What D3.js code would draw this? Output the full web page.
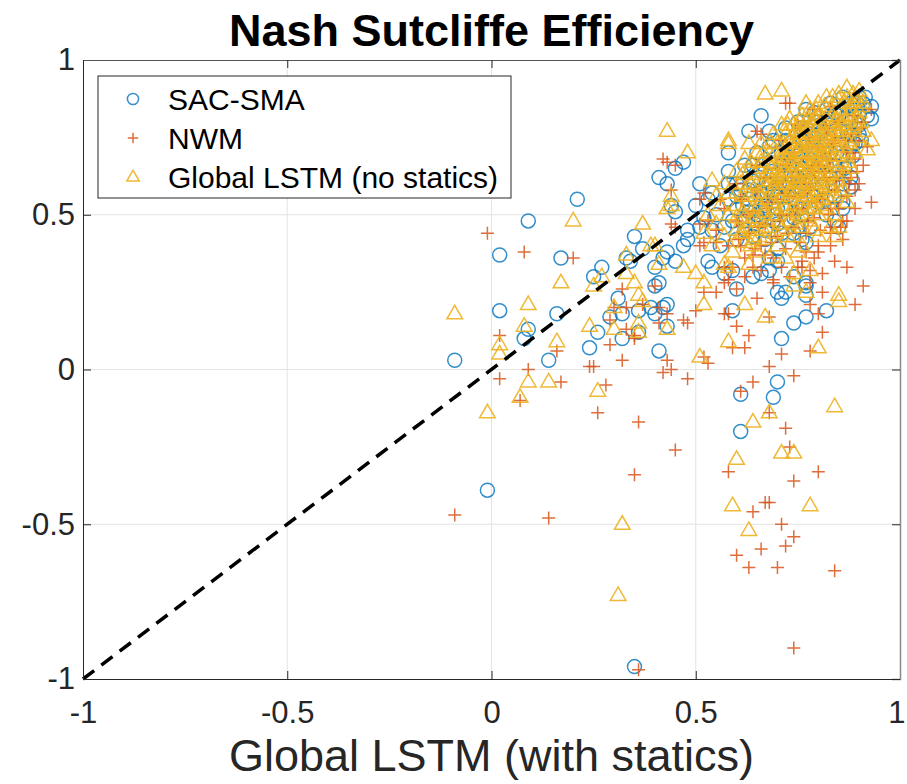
<!DOCTYPE html>
<html>
<head>
<meta charset="utf-8">
<script src="https://cdn.jsdelivr.net/npm/d3@7"></script>
<style>
  body { margin: 0; background: #fff; }
  svg { display: block; font-family: "Liberation Sans", Arial, Helvetica, sans-serif; }
</style>
</head>
<body>
<svg id="chart" width="907" height="784"></svg>
<script>
// ── data ───────────────────────────────────────────────────
const seriesNames = ["SAC-SMA", "NWM", "Global LSTM (no statics)"];
const xTicks = [-1, -0.5, 0, 0.5, 1];
const yTicks = [-1, -0.5, 0, 0.5, 1];

// [global LSTM with statics, other model]
const sacSma = [
  [-0.09,0.03],[0.02,0.19],[0.02,0.37],[0.09,0.48],[0.21,0.55],[0.17,0.36],[0.16,0.18],[0.09,0.13],
  [0.08,0.10],[0.14,0.03],[0.24,0.07],[0.26,0.12],[0.25,0.30],[0.27,0.33],[0.31,0.23],[0.29,0.17],
  [0.32,0.18],[0.32,0.10],[0.33,0.36],[0.35,0.43],[0.37,0.39],[0.36,0.19],[0.41,0.28],[0.40,0.33],
  [0.43,0.21],[0.40,0.18],[0.43,0.14],[0.41,0.06],[0.43,0.38],[0.45,0.35],[0.41,0.62],[0.43,0.60],
  [0.45,0.51],[0.48,0.45],[0.51,0.60],[0.53,0.35],[-0.01,-0.39],[0.35,-0.96],[0.61,-0.08],[0.70,-0.04],
  [0.69,-0.09],[0.61,-0.20],[0.59,0.19],[0.71,0.10],[0.74,0.15],[0.77,0.17],[0.82,0.19],[0.36,0.12],
  [0.70,0.25],[0.72,0.25],[0.77,0.27],[0.77,0.24],[0.60,0.26],[0.59,0.32],[0.64,0.30],[0.66,0.31],
  [0.68,0.32],[0.68,0.36],[0.70,0.39],[0.76,0.42],[0.67,0.42],[0.84,0.48],[0.74,0.30],[0.66,0.82],
  [0.63,0.77],[0.68,0.77],[0.58,0.70],[0.77,0.84],[0.82,0.84],[0.93,0.85],[0.93,0.81],[0.89,0.73],
  [0.90,0.76],[0.58,0.64],[0.47,0.67],[0.45,0.65],[0.44,0.53],[0.50,0.53],[0.54,0.57],[0.90,0.88],
  [0.60,0.60],[0.75,0.62],[0.88,0.59],[0.86,0.54],[0.85,0.46],[0.77,0.41],[0.70,0.35],[0.54,0.33],
  [0.47,0.40],[0.42,0.36],[0.40,0.27],[0.42,0.20],[0.71,0.23],[0.77,0.28],[0.34,0.35],[0.39,0.20],
  [0.48,0.42],[0.51,0.46],[0.57,0.31],
  // dense core
  [0.55,0.50],[0.57,0.46],[0.58,0.55],[0.60,0.52],[0.61,0.58],[0.62,0.48],[0.63,0.55],[0.64,0.61],
  [0.65,0.50],[0.66,0.57],[0.66,0.64],[0.67,0.53],[0.68,0.60],[0.68,0.67],[0.69,0.48],[0.70,0.56],
  [0.70,0.63],[0.71,0.70],[0.72,0.52],[0.72,0.59],[0.73,0.66],[0.73,0.73],[0.74,0.55],[0.74,0.62],
  [0.75,0.69],[0.75,0.46],[0.76,0.58],[0.76,0.65],[0.77,0.72],[0.77,0.78],[0.78,0.52],[0.78,0.61],
  [0.78,0.68],[0.79,0.75],[0.79,0.56],[0.80,0.64],[0.80,0.71],[0.80,0.80],[0.81,0.59],[0.81,0.67],
  [0.82,0.74],[0.82,0.50],[0.83,0.62],[0.83,0.70],[0.83,0.79],[0.84,0.66],[0.84,0.56],[0.85,0.73],
  [0.85,0.82],[0.86,0.69],[0.86,0.60],[0.87,0.77],[0.87,0.85],[0.88,0.72],[0.88,0.80],[0.89,0.84],
  [0.90,0.79],[0.91,0.86],[0.64,0.43],[0.67,0.45],[0.71,0.44],[0.60,0.42],[0.56,0.40],[0.62,0.66],
  [0.65,0.70],[0.69,0.74],[0.72,0.78],[0.75,0.80],[0.79,0.83],[0.83,0.86],[0.86,0.88],[0.58,0.60],
  [0.54,0.45],[0.52,0.49],[0.53,0.55],[0.76,0.50],[0.80,0.54],[0.74,0.49],[0.70,0.52],[0.81,0.77],
  [0.77,0.62],[0.73,0.60],[0.69,0.58],[0.66,0.55],[0.85,0.64],[0.88,0.76],[0.90,0.82],[0.63,0.51],
  [0.59,0.48],[0.71,0.66],[0.76,0.74],[0.79,0.70],[0.82,0.66],[0.84,0.77],
  [0.615,0.53],[0.63,0.58],[0.645,0.47],[0.655,0.62],[0.665,0.52],[0.675,0.57],[0.685,0.64],[0.695,0.50],
  [0.705,0.60],[0.715,0.67],[0.725,0.56],[0.735,0.63],[0.745,0.71],[0.755,0.52],[0.765,0.60],[0.775,0.67],
  [0.785,0.76],[0.795,0.58],[0.805,0.66],[0.815,0.72],[0.825,0.81],[0.835,0.60],[0.845,0.70],[0.855,0.77],
  [0.865,0.65],[0.875,0.81],[0.885,0.69],[0.895,0.86],[0.905,0.74],[0.62,0.45],[0.66,0.48],[0.70,0.47],
  [0.74,0.44],[0.78,0.46],[0.82,0.55],[0.86,0.52],[0.88,0.62],[0.92,0.82],[0.60,0.56],[0.64,0.66],
  [0.68,0.72],[0.72,0.74],[0.76,0.78],[0.80,0.77],[0.84,0.83],[0.88,0.86],[0.915,0.88]
];

const nwm = [
  [-0.01,0.44],[0.08,0.38],[0.20,0.36],[0.02,0.11],[0.02,-0.03],[0.09,0.00],[0.16,0.06],[0.17,-0.04],
  [0.24,0.01],[0.25,0.01],[0.28,-0.05],[0.29,0.08],[0.32,0.03],[0.30,0.20],[0.33,0.20],[0.35,0.10],
  [0.40,0.27],[0.41,0.20],[0.43,0.18],[0.43,0.03],[0.44,0.00],[0.42,-0.01],[0.48,-0.03],[0.48,0.15],
  [0.50,0.19],[0.52,0.25],[0.55,0.25],[0.51,0.40],[0.42,0.68],[0.44,0.58],[0.45,0.46],[0.52,0.57],
  [-0.09,-0.47],[0.14,-0.48],[0.26,-0.14],[0.36,-0.17],[0.35,-0.34],[0.07,-0.10],[0.36,-0.97],[0.45,-0.26],
  [0.53,0.02],[0.52,0.04],[0.60,0.14],[0.63,0.11],[0.62,0.07],[0.68,0.01],[0.71,0.05],[0.74,-0.02],
  [0.64,-0.04],[0.61,-0.07],[0.68,-0.14],[0.72,-0.19],[0.73,-0.25],[0.58,-0.33],[0.74,-0.36],[0.80,-0.33],
  [0.64,-0.46],[0.67,-0.43],[0.68,-0.43],[0.71,-0.50],[0.74,-0.54],[0.72,-0.57],[0.66,-0.58],[0.60,-0.60],
  [0.63,-0.64],[0.70,-0.64],[0.84,-0.65],[0.74,-0.90],[0.89,0.21],[0.81,0.12],[0.78,0.06],[0.80,0.18],
  [0.78,0.21],[0.59,0.07],[0.87,0.33],[0.91,0.27],[0.81,0.25],[0.65,0.23],[0.60,0.26],[0.58,0.18],
  [0.68,0.17],[0.80,0.38],[0.78,0.32],[0.76,0.33],[0.77,0.38],[0.64,0.37],[0.61,0.40],[0.69,0.29],
  [0.87,0.48],[0.83,0.44],[0.58,0.29],[0.72,0.86],[0.73,0.86],[0.93,0.54],[0.89,0.58],[0.93,0.84],
  [0.65,0.77],[0.66,0.76],[0.43,0.67],[0.45,0.66],[0.32,0.26],[0.37,0.21],[0.29,0.16],[0.33,0.13],
  [0.35,0.11],[0.41,0.15],[0.47,0.16],[0.55,0.41],[0.57,0.33],[0.57,0.18],[0.51,0.55],[0.51,0.47],
  [0.44,0.47],
  // dense core
  [0.55,0.45],[0.57,0.52],[0.58,0.40],[0.60,0.48],[0.61,0.55],[0.62,0.36],[0.63,0.44],[0.64,0.51],
  [0.65,0.58],[0.66,0.40],[0.67,0.47],[0.67,0.62],[0.68,0.54],[0.69,0.36],[0.70,0.43],[0.70,0.60],
  [0.71,0.50],[0.72,0.66],[0.72,0.39],[0.73,0.56],[0.74,0.46],[0.74,0.70],[0.75,0.62],[0.76,0.52],
  [0.76,0.35],[0.77,0.68],[0.77,0.44],[0.78,0.58],[0.78,0.75],[0.79,0.49],[0.79,0.64],[0.80,0.40],
  [0.80,0.72],[0.81,0.55],[0.82,0.62],[0.82,0.78],[0.83,0.46],[0.83,0.68],[0.84,0.58],[0.84,0.74],
  [0.85,0.52],[0.85,0.80],[0.86,0.64],[0.86,0.42],[0.87,0.70],[0.87,0.56],[0.88,0.76],[0.88,0.62],
  [0.89,0.82],[0.89,0.68],[0.90,0.74],[0.91,0.80],[0.84,0.35],[0.81,0.31],[0.78,0.28],[0.73,0.30],
  [0.69,0.28],[0.66,0.32],[0.62,0.30],[0.59,0.33],[0.57,0.28],[0.75,0.79],[0.79,0.84],[0.83,0.85],
  [0.71,0.74],[0.65,0.66],[0.60,0.60],[0.56,0.55],[0.53,0.48],[0.52,0.41],[0.86,0.48],[0.89,0.52],
  [0.90,0.60],[0.91,0.66],[0.92,0.72],[0.77,0.60],[0.73,0.50],[0.70,0.55],[0.80,0.66],[0.83,0.52],
  [0.605,0.42],[0.625,0.50],[0.645,0.39],[0.655,0.46],[0.675,0.52],[0.685,0.41],[0.705,0.48],[0.715,0.57],
  [0.725,0.44],[0.735,0.62],[0.745,0.52],[0.755,0.41],[0.765,0.57],[0.775,0.48],[0.785,0.66],[0.795,0.54],
  [0.805,0.45],[0.815,0.64],[0.825,0.50],[0.835,0.73],[0.845,0.61],[0.855,0.46],[0.865,0.74],[0.875,0.60],
  [0.885,0.70],[0.895,0.64],[0.905,0.78],[0.79,0.36],[0.83,0.40],[0.75,0.33],[0.71,0.33],[0.67,0.37],
  [0.64,0.33],[0.81,0.70],[0.77,0.72],[0.73,0.68]
];

const lstmNoStatics = [
  [-0.09,0.18],[0.09,0.21],[0.08,0.14],[0.02,0.08],[0.02,0.05],[0.09,-0.04],[0.07,-0.09],[0.14,-0.04],
  [0.16,0.09],[0.17,0.28],[0.20,0.48],[0.24,0.14],[0.26,-0.07],[0.25,0.27],[0.27,0.30],[0.30,0.13],
  [0.30,0.20],[0.33,0.37],[0.33,0.31],[0.35,0.28],[0.36,0.24],[0.37,0.22],[0.36,0.15],[0.37,0.47],
  [0.40,0.40],[0.41,0.34],[0.43,0.13],[0.44,0.53],[0.47,0.33],[0.50,0.31],[0.52,0.28],[0.52,0.21],
  [0.51,0.04],[-0.01,-0.14],[0.32,-0.50],[0.31,-0.73],[0.36,0.12],[0.62,0.21],[0.58,0.09],[0.67,0.17],
  [0.80,0.07],[0.84,-0.12],[0.68,-0.14],[0.64,-0.17],[0.60,-0.29],[0.71,-0.27],[0.74,-0.27],[0.59,-0.44],
  [0.78,-0.44],[0.63,-0.52],[0.85,0.22],[0.85,0.24],[0.74,0.31],[0.78,0.32],[0.74,0.27],[0.77,0.25],
  [0.75,0.38],[0.80,0.43],[0.84,0.43],[0.85,0.46],[0.64,0.42],[0.61,0.44],[0.57,0.34],[0.67,0.89],
  [0.71,0.90],[0.58,0.73],[0.63,0.73],[0.66,0.73],[0.71,0.79],[0.85,0.89],[0.87,0.91],[0.93,0.74],
  [0.92,0.71],[0.87,0.54],[0.90,0.88],[0.43,0.77],[0.48,0.70],[0.43,0.52],[0.54,0.61],[0.58,0.74],
  [0.44,0.56],[0.39,0.40],
  // dense core
  [0.52,0.44],[0.53,0.50],[0.54,0.40],[0.55,0.47],[0.56,0.53],[0.57,0.43],[0.58,0.50],[0.58,0.57],
  [0.59,0.38],[0.60,0.45],[0.60,0.53],[0.61,0.60],[0.62,0.41],[0.62,0.49],[0.63,0.56],[0.63,0.64],
  [0.64,0.45],[0.64,0.52],[0.65,0.60],[0.65,0.38],[0.66,0.48],[0.66,0.55],[0.66,0.67],[0.67,0.42],
  [0.67,0.51],[0.67,0.59],[0.68,0.63],[0.68,0.70],[0.68,0.46],[0.69,0.54],[0.69,0.58],[0.69,0.66],
  [0.70,0.40],[0.70,0.50],[0.70,0.62],[0.70,0.73],[0.71,0.45],[0.71,0.56],[0.71,0.68],[0.72,0.52],
  [0.72,0.60],[0.72,0.64],[0.72,0.76],[0.73,0.48],[0.73,0.57],[0.73,0.70],[0.74,0.43],[0.74,0.53],
  [0.74,0.62],[0.74,0.67],[0.74,0.79],[0.75,0.50],[0.75,0.58],[0.75,0.73],[0.76,0.46],[0.76,0.55],
  [0.76,0.64],[0.76,0.70],[0.76,0.82],[0.77,0.52],[0.77,0.60],[0.77,0.67],[0.77,0.76],[0.78,0.48],
  [0.78,0.57],[0.78,0.63],[0.78,0.72],[0.78,0.84],[0.79,0.54],[0.79,0.61],[0.79,0.69],[0.79,0.79],
  [0.80,0.50],[0.80,0.58],[0.80,0.65],[0.80,0.74],[0.80,0.86],[0.81,0.55],[0.81,0.62],[0.81,0.70],
  [0.81,0.81],[0.82,0.52],[0.82,0.59],[0.82,0.67],[0.82,0.76],[0.83,0.63],[0.83,0.72],[0.83,0.84],
  [0.84,0.56],[0.84,0.69],[0.84,0.79],[0.85,0.61],[0.85,0.75],[0.85,0.87],[0.86,0.66],[0.86,0.72],
  [0.86,0.82],[0.87,0.70],[0.87,0.78],[0.87,0.88],[0.88,0.74],[0.88,0.84],[0.89,0.79],[0.89,0.87],
  [0.90,0.83],[0.90,0.90],[0.91,0.86],[0.65,0.70],[0.62,0.68],[0.60,0.64],[0.69,0.76],[0.73,0.81],
  [0.77,0.86],[0.82,0.88],[0.57,0.60],[0.55,0.56],[0.84,0.50],[0.86,0.58],[0.88,0.65],[0.79,0.45],
  [0.76,0.40],[0.72,0.36],[0.68,0.36],[0.63,0.34],[0.58,0.33],[0.89,0.70],[0.91,0.77],[0.83,0.46],
  [0.60,0.49],[0.60,0.57],[0.615,0.44],[0.615,0.51],[0.615,0.56],[0.615,0.63],[0.625,0.46],[0.625,0.53],
  [0.625,0.59],[0.635,0.40],[0.635,0.48],[0.635,0.60],[0.635,0.67],[0.645,0.49],[0.645,0.56],[0.645,0.63],
  [0.655,0.43],[0.655,0.53],[0.655,0.57],[0.655,0.65],[0.665,0.45],[0.665,0.51],[0.665,0.61],[0.665,0.70],
  [0.675,0.48],[0.675,0.55],[0.675,0.64],[0.675,0.67],[0.685,0.50],[0.685,0.57],[0.685,0.61],[0.685,0.73],
  [0.695,0.44],[0.695,0.52],[0.695,0.63],[0.695,0.70],[0.705,0.47],[0.705,0.58],[0.705,0.66],[0.705,0.69],
  [0.715,0.53],[0.715,0.61],[0.715,0.64],[0.715,0.73],[0.725,0.43],[0.725,0.55],[0.725,0.68],[0.725,0.71],
  [0.725,0.79],[0.735,0.51],[0.735,0.59],[0.735,0.64],[0.735,0.75],[0.745,0.47],[0.745,0.57],[0.745,0.66],
  [0.745,0.70],[0.745,0.77],[0.755,0.53],[0.755,0.61],[0.755,0.68],[0.755,0.76],[0.755,0.80],[0.765,0.49],
  [0.765,0.58],[0.765,0.62],[0.765,0.73],[0.765,0.78],[0.775,0.56],[0.775,0.64],[0.775,0.70],[0.775,0.81],
  [0.785,0.52],[0.785,0.60],[0.785,0.66],[0.785,0.75],[0.785,0.79],[0.795,0.57],[0.795,0.63],[0.795,0.72],
  [0.795,0.77],[0.795,0.84],[0.805,0.53],[0.805,0.61],[0.805,0.68],[0.805,0.79],[0.815,0.58],[0.815,0.65],
  [0.815,0.73],[0.815,0.76],[0.815,0.85],[0.825,0.55],[0.825,0.63],[0.825,0.70],[0.825,0.80],[0.835,0.59],
  [0.835,0.67],[0.835,0.75],[0.835,0.82],[0.835,0.88],[0.845,0.64],[0.845,0.72],[0.845,0.77],[0.855,0.57],
  [0.855,0.69],[0.855,0.79],[0.855,0.84],[0.865,0.63],[0.865,0.75],[0.865,0.80],[0.865,0.86],[0.875,0.67],
  [0.875,0.73],[0.875,0.82],[0.885,0.78],[0.885,0.86],[0.885,0.89],[0.895,0.75],[0.895,0.81],[0.905,0.80],
  [0.905,0.85],
  [0.685,0.65],[0.695,0.60],[0.705,0.63],[0.715,0.70],[0.72,0.68],[0.725,0.62],[0.735,0.67],[0.735,0.72],
  [0.745,0.60],[0.745,0.73],[0.75,0.66],[0.755,0.64],[0.755,0.72],[0.765,0.66],[0.765,0.70],[0.77,0.74],
  [0.775,0.62],[0.775,0.78],[0.78,0.66],[0.785,0.70],[0.79,0.73],[0.795,0.67],[0.80,0.70],[0.805,0.73],
  [0.805,0.76],[0.81,0.67],[0.815,0.69],[0.82,0.72],[0.825,0.74],[0.83,0.77],[0.83,0.69],[0.84,0.74],
  [0.845,0.81],[0.85,0.77],[0.86,0.79],[0.80,0.82],[0.79,0.81],[0.77,0.80],[0.75,0.76],[0.73,0.74],
  [0.71,0.62],[0.74,0.58],[0.77,0.56],[0.80,0.60],[0.83,0.59],[0.79,0.52],[0.76,0.60]
];

// ── layout ────────────────────────────────────────────────
const svg = d3.select("#chart");
const L = 83, R = 900, T = 60, B = 679;
const x = d3.scaleLinear().domain([-1, 1]).range([L, R]);
const y = d3.scaleLinear().domain([-1, 1]).range([B, T]);
const ink = "#262626";

// grid
const grid = svg.append("g").attr("stroke", "#e3e3e3").attr("stroke-width", 1);
grid.selectAll(".gx").data(xTicks.slice(1, -1)).join("line")
  .attr("x1", d => x(d)).attr("x2", d => x(d)).attr("y1", T).attr("y2", B);
grid.selectAll(".gy").data(yTicks.slice(1, -1)).join("line")
  .attr("y1", d => y(d)).attr("y2", d => y(d)).attr("x1", L).attr("x2", R);

// markers
const styles = [
  { data: sacSma,        color: "#0072BD", shape: "circle" },
  { data: nwm,           color: "#D95319", shape: "plus" },
  { data: lstmNoStatics, color: "#EDB120", shape: "triangle" }
];
const shapePath = {
  plus: "M-6.5,0H6.5M0,-6.5V6.5",
  triangle: "M0,-8.5L7.8,5L-7.8,5Z"
};

function drawMarker(sel, s, size = 1) {
  if (s.shape === "circle") {
    sel.append("circle").attr("r", 7 * size)
      .attr("fill", "none").attr("stroke", s.color)
      .attr("stroke-opacity", 0.8).attr("stroke-width", 1.5);
  } else {
    sel.append("path").attr("d", shapePath[s.shape])
      .attr("transform", size !== 1 ? `scale(${size})` : null)
      .attr("fill", "none").attr("stroke", s.color)
      .attr("stroke-opacity", s.shape === "triangle" ? 0.9 : 0.85)
      .attr("stroke-width", 1.5 / size);
  }
}

const plot = svg.append("g");
styles.forEach(s => {
  plot.append("g").selectAll("g").data(s.data).join("g")
    .attr("transform", d => `translate(${x(d[0])},${y(d[1])})`)
    .each(function () { drawMarker(d3.select(this), s); });
});

// 1:1 line
svg.append("line")
  .attr("x1", x(-1)).attr("y1", y(-1)).attr("x2", x(1)).attr("y2", y(1))
  .attr("stroke", "#000").attr("stroke-width", 3.5)
  .attr("stroke-dasharray", "14,9");

// axes (box with inward ticks)
const fs = 31;
const fmt = d => String(d);
const axB = svg.append("g").attr("transform", `translate(0,${B})`)
  .call(d3.axisBottom(x).tickValues(xTicks).tickSize(-8).tickPadding(22).tickFormat(fmt));
const axL = svg.append("g").attr("transform", `translate(${L},0)`)
  .call(d3.axisLeft(y).tickValues(yTicks).tickSize(-8).tickPadding(8).tickFormat(fmt));
const axT = svg.append("g").attr("transform", `translate(0,${T})`)
  .call(d3.axisTop(x).tickValues(xTicks).tickSize(-8).tickFormat(""));
const axR = svg.append("g").attr("transform", `translate(${R},0)`)
  .call(d3.axisRight(y).tickValues(yTicks).tickSize(-8).tickFormat(""));
[axB, axL, axT, axR].forEach(a => {
  a.selectAll("path, line").attr("stroke", ink).attr("stroke-width", 1);
  a.selectAll("text").attr("fill", ink).attr("font-size", fs)
    .attr("font-family", "'Liberation Sans', Arial, sans-serif");
});
axT.selectAll("path").attr("stroke", "#555");
axR.selectAll("path").attr("stroke", "#888").attr("stroke-width", 1.5);
// last x label sits at the window edge, keep it inside
axB.selectAll(".tick").filter(d => d === 1).select("text").attr("dx", "-0.12em");

// title and label
svg.append("text").attr("x", (L + R) / 2).attr("y", 46)
  .attr("text-anchor", "middle").attr("font-size", 45).attr("font-weight", "bold")
  .attr("fill", "#000").text("Nash Sutcliffe Efficiency");
svg.append("text").attr("x", (L + R) / 2).attr("y", 771)
  .attr("text-anchor", "middle").attr("font-size", 45)
  .attr("fill", ink).text("Global LSTM (with statics)");

// legend
const lg = svg.append("g");
lg.append("rect").attr("x", 98).attr("y", 76).attr("width", 413).attr("height", 122)
  .attr("fill", "#fff").attr("stroke", ink).attr("stroke-width", 1);
const rows = lg.selectAll("g.row").data(styles).join("g").attr("class", "row")
  .attr("transform", (d, i) => `translate(0,${99 + i * 39})`);
rows.append("g").attr("transform", "translate(133,0)")
  .each(function (d) { drawMarker(d3.select(this), d, 0.8); });
rows.append("text").attr("x", 168).attr("dy", "0.36em")
  .attr("font-size", 30).attr("fill", "#000")
  .text((d, i) => seriesNames[i]);
</script>
</body>
</html>
